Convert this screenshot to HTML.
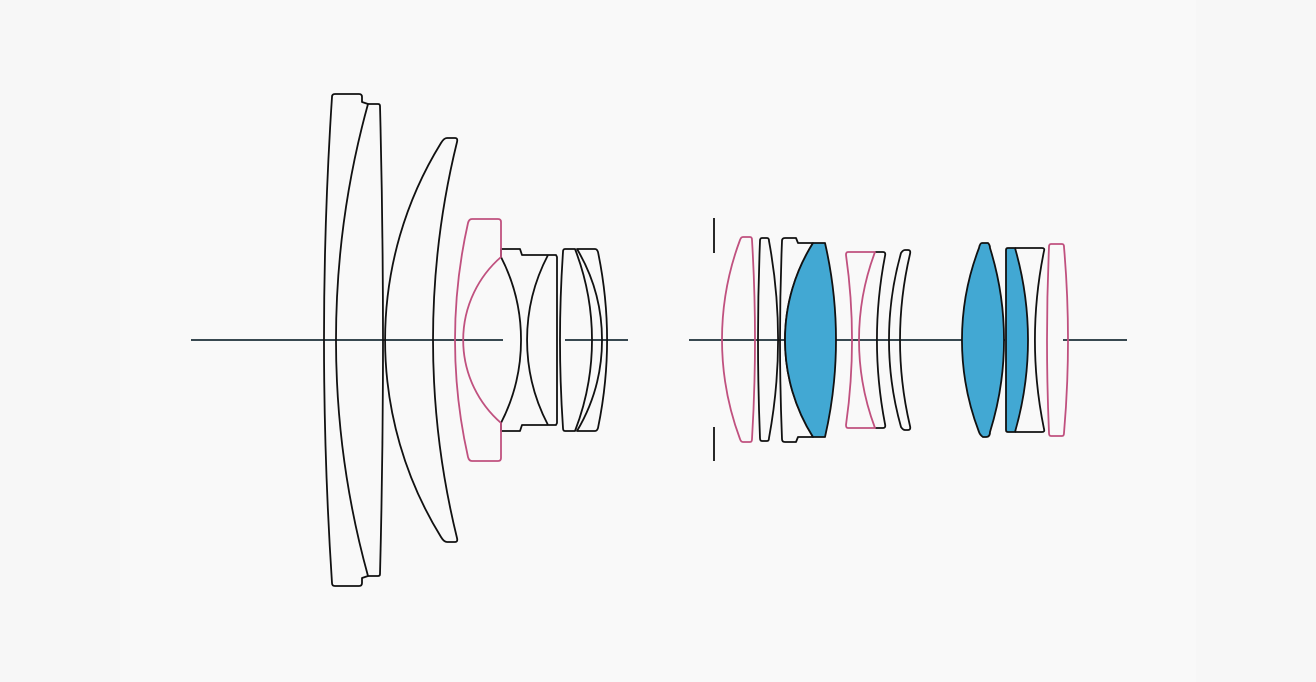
<!DOCTYPE html>
<html><head><style>
html,body{margin:0;padding:0;background:#f9f9f9;}
svg{display:block;}
</style></head><body>
<svg width="1316" height="682" viewBox="0 0 1316 682" xmlns="http://www.w3.org/2000/svg">
<rect width="1316" height="682" fill="#f7f7f7"/>
<rect x="120" y="0" width="1076" height="682" fill="#f9f9f9"/>
<g fill="none" stroke="#111" stroke-width="1.8" stroke-linejoin="round">
<line x1="191" y1="340" x2="503" y2="340" stroke="#1d2e38"/>
<line x1="565" y1="340" x2="628" y2="340" stroke="#1d2e38"/>
<!-- E1 -->
<path d="M335,94 L359,94 Q362,94 362,97 L362,102 L368,104 A886,886 0 0 0 368,576 L362,578 L362,583 Q362,586 359,586 L335,586 Q332,586 332,583 A3695,3695 0 0 1 332,97 Q332,94 335,94 Z"/>
<!-- E2 -->
<path d="M368,104 L378,104 Q380,104 380,106 A9128,9128 0 0 1 380,574 Q380,576 378,576 L368,576"/>
<!-- E3 -->
<path d="M447,138 L455,138 Q458,138 457,142 A829,829 0 0 0 457,538 Q458,542 455,542 L447,542 Q444,542 441,537 A375,375 0 0 1 441,143 Q444,138 447,138 Z"/>
<!-- E5 -->
<path d="M501,257 L501,249 L520,249 L522,255 L548,255"/>
<path d="M501,423 L501,431 L520,431 L522,425 L548,425"/>
<path d="M501,257 A182,182 0 0 1 501,423"/>
<!-- E6 -->
<path d="M548,255 A183,183 0 0 0 548,425 M548,255 L556,255 L557,257 L557,423 L556,425 L548,425"/>
<!-- E7 -->
<path d="M565,249 L575,249 A252,252 0 0 1 575,431 L565,431 Q563,431 563,428 A1292,1292 0 0 1 563,252 Q563,249 565,249 Z"/>
<!-- E8 -->
<path d="M577,249 L595,249 Q597,249 598,252 A435,435 0 0 1 598,428 Q597,431 595,431 L577,431 A178,178 0 0 0 577,249 Z"/>

<line x1="689" y1="340" x2="1005" y2="340" stroke="#1d2e38"/>
<line x1="1063" y1="340" x2="1127" y2="340" stroke="#1d2e38"/>
<line x1="714" y1="218" x2="714" y2="253"/>
<line x1="714" y1="427" x2="714" y2="461"/>
<path d="M762,238 L767,238 Q769,238 769,241 A543,543 0 0 1 769,438 Q769,441 767,441 L762,441 Q760,441 760,438 A2426,2426 0 0 1 760,241 Q760,238 762,238Z"/>
<path d="M785,238 L796,238 L798,243 L813,243 A182,182 0 0 0 813,437 L798,437 L796,442 L785,442 Q782,442 782,439 A2451,2451 0 0 1 782,241 Q782,238 785,238 Z"/>
<path d="M813,243 L825,243 A433,433 0 0 1 825,437 L813,437 A182,182 0 0 1 813,243Z" fill="#42a8d3"/>
<path d="M875,252 L883,252 Q886,252 885,256 A445,445 0 0 0 885,424 Q886,428 883,428 L875,428"/>
<path d="M905,250 L908,250 Q911,250 910,254 A375,375 0 0 0 910,426 Q911,430 908,430 L905,430 Q903,430 901,427 A321,321 0 0 1 901,253 Q903,250 905,250Z"/>
<path d="M982,243 L988,243 Q990,245 990,248 A309,309 0 0 1 990,432 Q990,437 986,437 L983,437 Q980,435 979,432 A257,257 0 0 1 979,248 Q980,243 982,243Z" fill="#42a8d3"/>
<path d="M1008,248 L1015,248 A332,332 0 0 1 1015,432 L1008,432 Q1006,432 1006,430 L1006,250 Q1006,248 1008,248Z" fill="#42a8d3"/>
<path d="M1015,248 L1042,248 Q1045,248 1044,251 A445,445 0 0 0 1044,429 Q1045,432 1042,432 L1015,432"/>
</g>
<g fill="none" stroke="#c0517f" stroke-width="1.8" stroke-linejoin="round">
<path d="M472,219 L498,219 Q501,219 501,222 L501,257 A110,110 0 0 0 501,423 L501,458 Q501,461 498,461 L472,461 Q469,461 468,457 A533,533 0 0 1 468,223 Q469,219 472,219 Z"/>
<path d="M743,237 L750,237 Q752,237 752,240 A1652,1652 0 0 1 752,439 Q752,442 750,442 L743,442 Q741,442 740,439 A284,284 0 0 1 740,240 Q741,237 743,237 Z"/>
<path d="M848,252 L875,252 A250,250 0 0 0 875,428 L848,428 Q846,428 846,425 A605,605 0 0 0 846,255 Q846,252 848,252Z"/>
<path d="M1051,244 L1062,244 Q1064,244 1064,247 A1083,1083 0 0 1 1064,433 Q1064,436 1062,436 L1051,436 Q1049,436 1049,433 A2163,2163 0 0 1 1049,247 Q1049,244 1051,244Z"/>
</g>
</svg>
</body></html>
